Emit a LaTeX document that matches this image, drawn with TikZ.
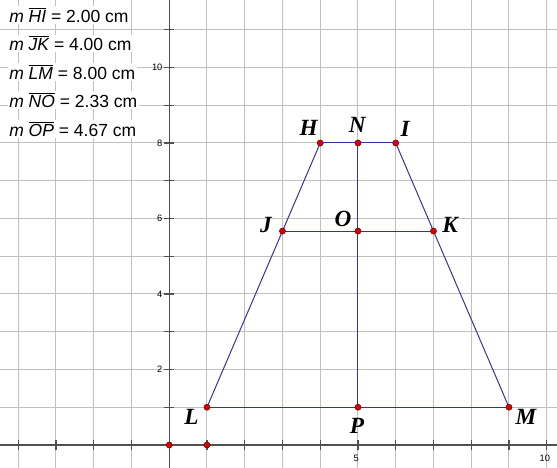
\documentclass[tikz,border=0pt]{standalone}
\usepackage{fontspec}
\setmainfont{Liberation Serif}
\newfontfamily\arialfont{Liberation Sans}
\usetikzlibrary{positioning}
\definecolor{gridgray}{RGB}{192,192,192}
\definecolor{axisgray}{RGB}{80,80,80}
\definecolor{segblue}{RGB}{51,51,153}
\definecolor{ptred}{RGB}{220,0,0}
\definecolor{ptdark}{RGB}{110,0,0}
\newcommand{\seglen}[2]{{\itshape m} $\overline{\hbox{\arialfont\itshape #1}}$ = #2 cm}
\tikzset{
  ptlabel/.style={font=\fontsize{17.5}{18}\selectfont\bfseries\itshape},
  measure/.style={anchor=west, fill=white, inner sep=1pt, font=\arialfont\fontsize{13.2}{14}\selectfont},
  ticklabel/.style={font=\arialfont\fontsize{7}{8}\selectfont, inner sep=1pt},
  seg/.style={segblue, line width=0.75pt},
  dot/.style={circle, fill=ptred, draw=ptdark, line width=0.4pt, inner sep=0pt, minimum size=4.6pt}
}
\begin{document}
\begin{tikzpicture}
\useasboundingbox (-4.483,-0.609) rectangle (10.272,11.788);
% grid
\foreach \x in {-4,...,10} \draw[gridgray, line width=0.75pt] (\x,-0.609)--(\x,11.788);
\foreach \y in {1,...,11} \draw[gridgray, line width=0.75pt] (-4.483,\y)--(10.272,\y);
% axes with ticks
\draw[axisgray, line width=1pt] (-4.483,0)--(10.272,0);
\draw[axisgray, line width=1pt] (0,-0.609)--(0,11.788);
\foreach \x in {-4,...,10} \draw[axisgray, line width=1pt] (\x,-0.13)--(\x,0.13);
\foreach \y in {1,...,11} \draw[axisgray, line width=1pt] (-0.13,\y)--(0.13,\y);
\foreach \x in {5,10} \node[ticklabel] (tx\x) at (\x-0.05,-0.35) {\x};
\foreach \y in {2,4,...,10} \node[ticklabel, anchor=east] (ty\y) at (-0.14,\y) {\y};
% points
\coordinate (H) at (4,8);
\coordinate (N) at (5,8);
\coordinate (I) at (6,8);
\coordinate (J) at (3,5.667);
\coordinate (O) at (5,5.667);
\coordinate (K) at (7,5.667);
\coordinate (L) at (1,1);
\coordinate (P) at (5,1);
\coordinate (M) at (9,1);
% trapezoid and midsegments
\draw[seg] (H)--(I);
\draw[seg] (L)--(M);
\draw[seg] (H)--(L);
\draw[seg] (I)--(M);
\draw[seg] (J)--(K);
\draw[seg] (N)--(P);
\foreach \p in {H,N,I,J,O,K,L,P,M} \node[dot] (d\p) at (\p) {};
\node[dot] (orig) at (0,0) {};
\node[dot] (unit) at (1,0) {};
% labels
\node[ptlabel] (labH) at (3.69,8.40) {H};
\node[ptlabel] (labN) at (4.98,8.49) {N};
\node[ptlabel] (labI) at (6.25,8.38) {I};
\node[ptlabel] (labJ) at (2.56,5.83) {J};
\node[ptlabel] (labO) at (4.60,6.00) {O};
\node[ptlabel] (labK) at (7.44,5.83) {K};
\node[ptlabel] (labL) at (0.59,0.74) {L};
\node[ptlabel] (labP) at (4.97,0.50) {P};
\node[ptlabel] (labM) at (9.45,0.74) {M};
% measurements
\node[measure] (mHI) at (-4.28,11.39) {\seglen{HI}{2.00}};
\node[measure] (mJK) at (-4.28,10.64) {\seglen{JK}{4.00}};
\node[measure] (mLM) at (-4.28,9.88) {\seglen{LM}{8.00}};
\node[measure] (mNO) at (-4.28,9.13) {\seglen{NO}{2.33}};
\node[measure] (mOP) at (-4.28,8.38) {\seglen{OP}{4.67}};
\end{tikzpicture}
\end{document}
